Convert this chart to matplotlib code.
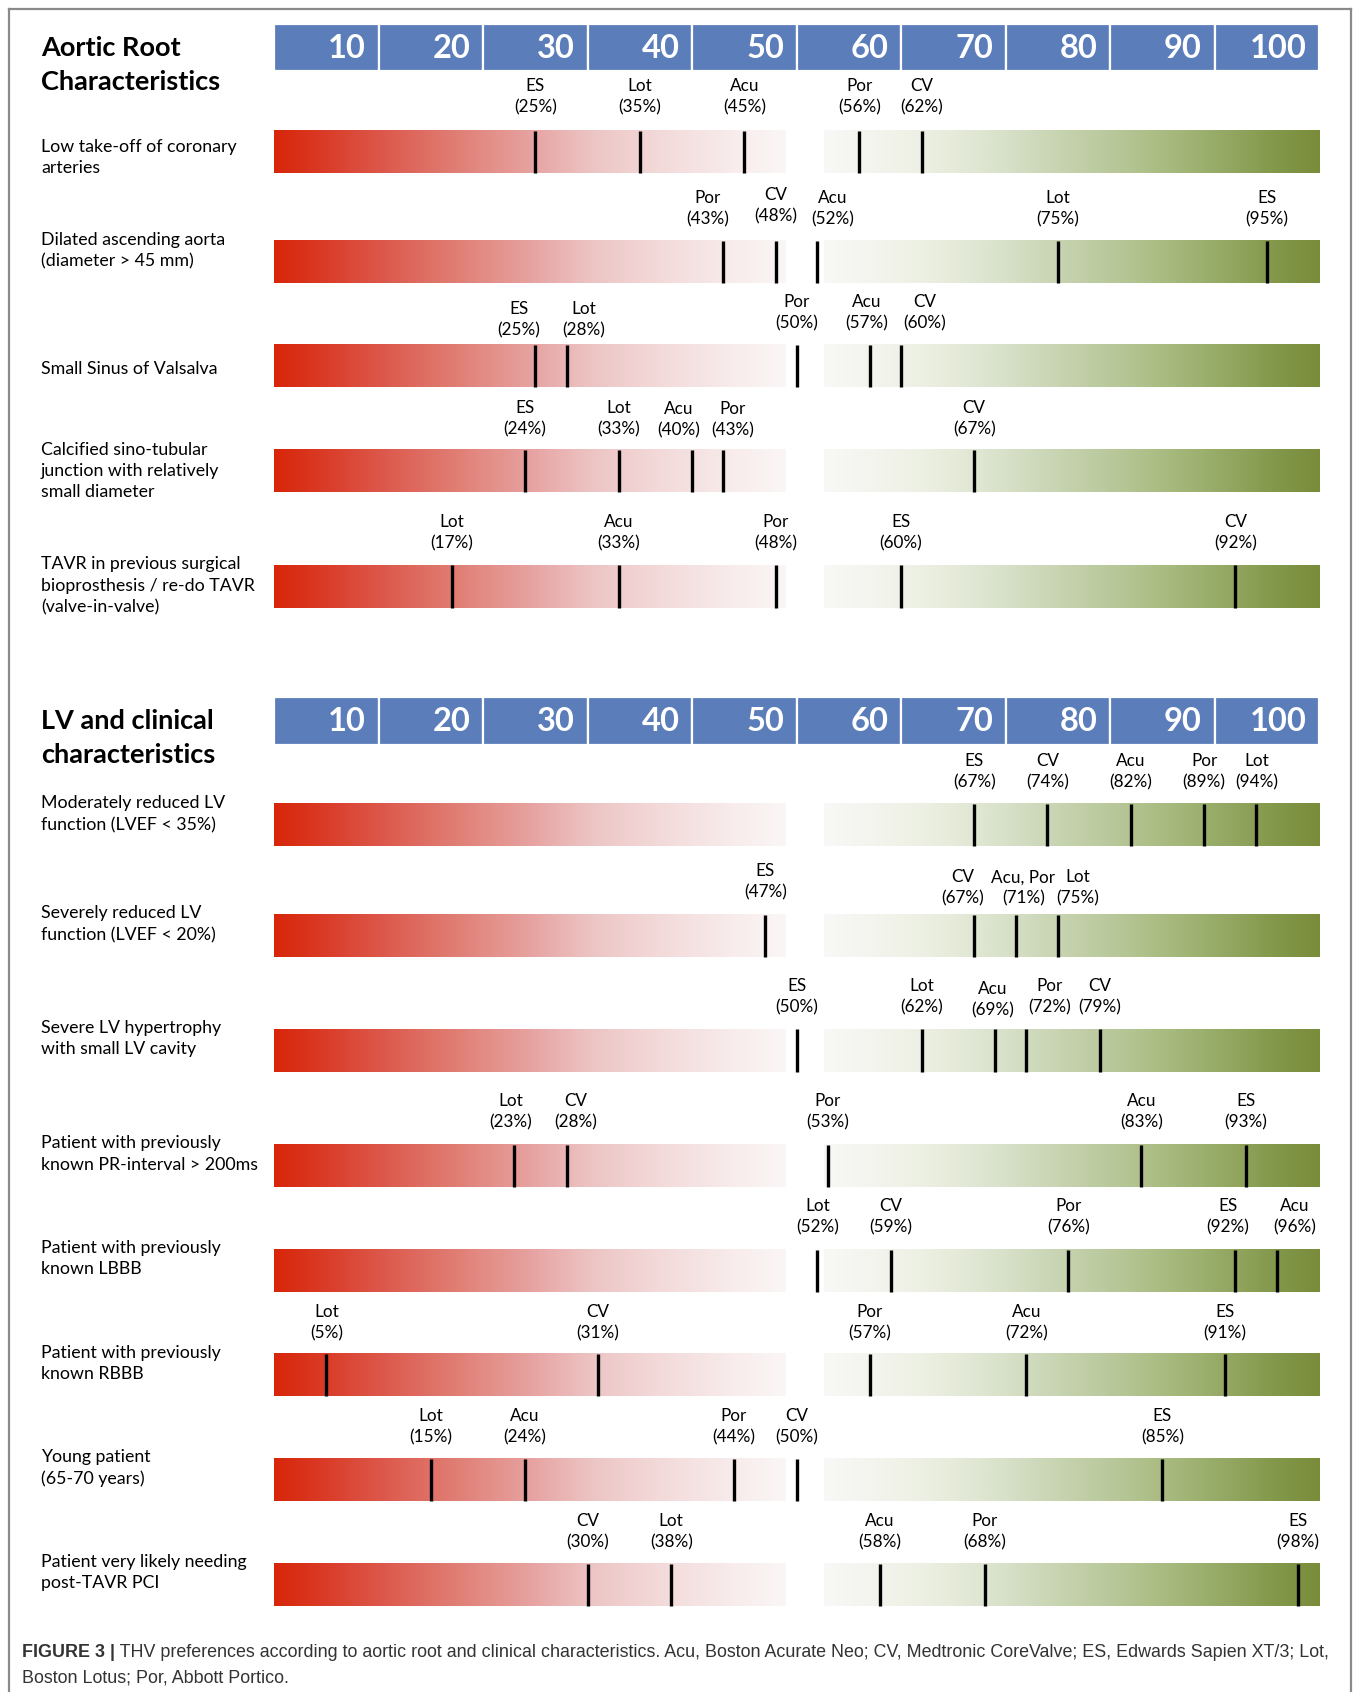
import matplotlib
matplotlib.use("Agg")
import matplotlib.pyplot as plt
import numpy as np
from matplotlib.colors import LinearSegmentedColormap
from matplotlib.lines import Line2D
from matplotlib.transforms import offset_copy

# ---------------- data ----------------
ticks = [10, 20, 30, 40, 50, 60, 70, 80, 90, 100]

sec1_title = "Aortic Root\nCharacteristics"
sec1_rows = [
    "Low take-off of coronary\narteries",
    "Dilated ascending aorta\n(diameter > 45 mm)",
    "Small Sinus of Valsalva",
    "Calcified sino-tubular\njunction with relatively\nsmall diameter",
    "TAVR in previous surgical\nbioprosthesis / re-do TAVR\n(valve-in-valve)",
]
sec1_valves = [
    ["ES", "Lot", "Acu", "Por", "CV"],
    ["Por", "CV", "Acu", "Lot", "ES"],
    ["ES", "Lot", "Por", "Acu", "CV"],
    ["ES", "Lot", "Acu", "Por", "CV"],
    ["Lot", "Acu", "Por", "ES", "CV"],
]
sec1_values = [
    [25, 35, 45, 56, 62],
    [43, 48, 52, 75, 95],
    [25, 28, 50, 57, 60],
    [24, 33, 40, 43, 67],
    [17, 33, 48, 60, 92],
]

sec2_title = "LV and clinical\ncharacteristics"
sec2_rows = [
    "Moderately reduced LV\nfunction (LVEF < 35%)",
    "Severely reduced LV\nfunction (LVEF < 20%)",
    "Severe LV hypertrophy\nwith small LV cavity",
    "Patient with previously\nknown PR-interval > 200ms",
    "Patient with previously\nknown LBBB",
    "Patient with previously\nknown RBBB",
    "Young patient\n(65-70 years)",
    "Patient very likely needing\npost-TAVR PCI",
]
sec2_valves = [
    ["ES", "CV", "Acu", "Por", "Lot"],
    ["ES", "CV", "Acu, Por", "Lot"],
    ["ES", "Lot", "Acu", "Por", "CV"],
    ["Lot", "CV", "Por", "Acu", "ES"],
    ["Lot", "CV", "Por", "ES", "Acu"],
    ["Lot", "CV", "Por", "Acu", "ES"],
    ["Lot", "Acu", "Por", "CV", "ES"],
    ["CV", "Lot", "Acu", "Por", "ES"],
]
sec2_values = [
    [67, 74, 82, 89, 94],
    [47, 67, 71, 75],
    [50, 62, 69, 72, 79],
    [23, 28, 53, 83, 93],
    [52, 59, 76, 92, 96],
    [5, 31, 57, 72, 91],
    [15, 24, 44, 50, 85],
    [30, 38, 58, 68, 98],
]

caption_bold = "FIGURE 3 |"
caption_line1 = (" THV preferences according to aortic root and clinical characteristics. "
                 "Acu, Boston Acurate Neo; CV, Medtronic CoreValve; ES, Edwards Sapien XT/3; Lot,")
caption_line2 = "Boston Lotus; Por, Abbott Portico."

# ---------------- layout / style (vertical units = layout px, top-down) ----------------
H = 1568.0
PX_PER_PCT = 9.68
X0_PX = 254.0
W_PX = 1260.0

sec1_header_top = 22
sec2_header_top = 646
header_h = 44
bar_h = 39
sec1_bar_tops = [121, 223, 320, 417, 524]
sec2_bar_tops = [745, 848, 954, 1061, 1158, 1255, 1352, 1449]
sec1_lab_y = [90, 193, 290, 388, 493.5]
sec2_lab_y = [715.5, 823, 923.5, 1030.5, 1127.5, 1225.5, 1322.5, 1419.5]
sec1_row_y = [146, 232.5, 342, 436.5, 543]
sec2_row_y = [754.5, 856.5, 962.5, 1069.5, 1166.5, 1263.5, 1360.5, 1457.5]
# small label nudges (dx in %, dy in px): {(row, idx): (dx, dy)}
sec1_nudge = {(1, 0): (-1.5, 0), (1, 1): (0, -2), (1, 2): (1.5, 0),
              (2, 0): (-1.6, 6), (2, 1): (1.6, 6), (2, 3): (-0.3, 0), (2, 4): (2.3, 0),
              (3, 2): (-1.3, 1), (3, 3): (0.9, 1)}
sec2_nudge = {(1, 0): (0, -5.5), (1, 1): (-1.1, 0), (1, 2): (0.7, 0), (1, 3): (1.9, 0),
              (2, 2): (-0.2, 3), (2, 3): (2.2, 0),
              (3, 0): (-0.4, 0), (3, 1): (0.9, 0),
              (4, 3): (-0.7, 0), (4, 4): (1.7, 0)}

RED_END = 49.0
GREEN_START = 52.6
header_color = "#5B7DBA"
red_cmap = LinearSegmentedColormap.from_list("reds", [
    (0.00, (216/255, 38/255, 10/255)),
    (0.10, (218/255, 60/255, 40/255)),
    (0.22, (221/255, 90/255, 78/255)),
    (0.35, (224/255, 125/255, 115/255)),
    (0.50, (230/255, 162/255, 160/255)),
    (0.62, (237/255, 196/255, 196/255)),
    (0.75, (243/255, 217/255, 217/255)),
    (0.90, (248/255, 236/255, 236/255)),
    (1.00, (251/255, 246/255, 246/255)),
])
green_cmap = LinearSegmentedColormap.from_list("greens", [
    (0.00, (248/255, 248/255, 246/255)),
    (0.16, (240/255, 242/255, 232/255)),
    (0.26, (230/255, 235/255, 218/255)),
    (0.37, (215/255, 224/255, 200/255)),
    (0.47, (200/255, 212/255, 178/255)),
    (0.58, (185/255, 200/255, 155/255)),
    (0.68, (170/255, 188/255, 130/255)),
    (0.79, (152/255, 172/255, 105/255)),
    (0.89, (135/255, 155/255, 80/255)),
    (1.00, (120/255, 140/255, 58/255)),
])

FONT = ["Lato", "DejaVu Sans"]
plt.rcParams["font.family"] = FONT

fig = plt.figure(figsize=(13.6, 16.92), dpi=100)
ax = fig.add_axes([0, 0, 1, 1])
ax.set_axis_off()
xmin = -X0_PX / PX_PER_PCT
xmax = (W_PX - X0_PX) / PX_PER_PCT
ax.set_xlim(xmin, xmax)
ax.set_ylim(H, 0)

grad = np.linspace(0, 1, 512).reshape(1, -1)


def draw_section(title, header_top, rows, valves, values, bar_tops, lab_y, row_y, nudge):
    # header
    ax.bar([t - 5 for t in ticks], [header_h] * len(ticks), width=10, bottom=header_top,
           color=header_color, edgecolor="white", linewidth=1.6, zorder=2)
    for t in ticks:
        ax.text(t - 1.2, header_top + header_h / 2 + 1, str(t), ha="right", va="center",
                color="white", fontsize=23.5, fontweight="bold", zorder=3)
    ax.text(38 / PX_PER_PCT + xmin, header_top + 38, title, ha="left", va="center",
            fontsize=19.5, fontweight="bold", color="black", linespacing=1.5)
    for i, (name, vs, vals) in enumerate(zip(rows, valves, values)):
        top = bar_tops[i]
        ax.imshow(grad, cmap=red_cmap, extent=(0, RED_END, top + bar_h, top),
                  aspect="auto", interpolation="bilinear", zorder=1)
        ax.imshow(grad, cmap=green_cmap, extent=(GREEN_START, 100, top + bar_h, top),
                  aspect="auto", interpolation="bilinear", zorder=1)
        ax.vlines(vals, top, top + bar_h, color="black", linewidth=2.4, zorder=3)
        for j, (v, val) in enumerate(zip(vs, vals)):
            dx, dy = nudge.get((i, j), (0, 0))
            ax.text(val + dx, lab_y[i] + dy, f"{v}\n({val}%)", ha="center", va="center",
                    fontsize=12.3, color="black", linespacing=1.4)
        ax.text(38 / PX_PER_PCT + xmin, row_y[i], name, ha="left", va="center",
                fontsize=12.8, color="black", linespacing=1.42)


draw_section(sec1_title, sec1_header_top, sec1_rows, sec1_valves, sec1_values,
             sec1_bar_tops, sec1_lab_y, sec1_row_y, sec1_nudge)
draw_section(sec2_title, sec2_header_top, sec2_rows, sec2_valves, sec2_values,
             sec2_bar_tops, sec2_lab_y, sec2_row_y, sec2_nudge)

ax.set_xlim(xmin, xmax)
ax.set_ylim(H, 0)

# caption
cap_x = 20 / PX_PER_PCT + xmin
cap_font = ["Liberation Sans", "DejaVu Sans"]
cap_size = 12.9
t1 = ax.text(cap_x, 1536, caption_bold, ha="left", va="baseline", fontsize=cap_size,
             fontweight="bold", color="#333333", family=cap_font)
renderer = fig.canvas.get_renderer()
w = t1.get_window_extent(renderer).width
ax.text(cap_x, 1536, caption_line1, ha="left", va="baseline", fontsize=cap_size,
        color="#333333", family=cap_font,
        transform=offset_copy(ax.transData, fig=fig, x=w, y=0, units="dots"))
ax.text(cap_x, 1559, caption_line2, ha="left", va="baseline", fontsize=cap_size,
        color="#333333", family=cap_font)

# frame
fl, fr, ft = 8 / W_PX, 1252 / W_PX, 1 - 8 / H
frame_kw = dict(color="#8a8a8a", linewidth=1.6, transform=fig.transFigure)
fig.add_artist(Line2D([fl, fl], [ft, -0.01], **frame_kw))
fig.add_artist(Line2D([fr, fr], [ft, -0.01], **frame_kw))
fig.add_artist(Line2D([fl, fr], [ft, ft], **frame_kw))

fig.savefig("out.png", dpi=100, facecolor="white")
